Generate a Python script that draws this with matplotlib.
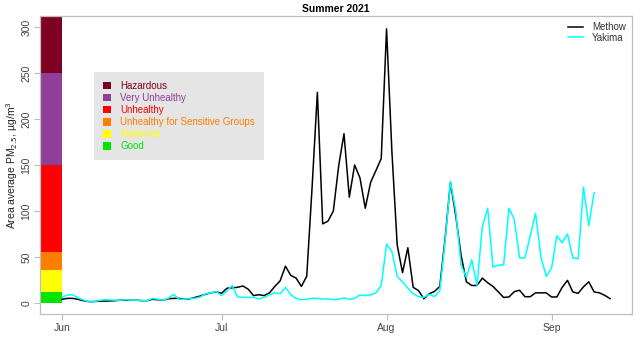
import numpy as np
import pandas as pd
import matplotlib
matplotlib.use("Agg")
import matplotlib.pyplot as plt
import matplotlib.dates as mdates
from matplotlib.lines import Line2D
from matplotlib.patches import Patch

plt.rcParams['font.family'] = ['Liberation Sans', 'DejaVu Sans']

# --- data ---
start_date = "2021-06-01"
methow = [4, 5, 5, 4, 2.5, 1.5, 1.5, 2, 2, 2.2, 2.5, 3, 3, 3, 3, 2.5, 2.5, 4, 3.5, 3,
          4.5, 5, 5, 4, 4.5, 6, 7.5, 9.5, 11, 12, 10.5, 16, 16.5, 17, 18.5, 15, 8, 9, 8, 11,
          18, 24, 40, 30, 27, 18, 29, 125, 229, 86, 89, 100, 149, 184, 115, 150, 136, 103, 131, 144,
          157, 298, 165, 63, 33, 60, 17, 13.5, 4.5, 10, 12.5, 18, 70, 131, 95, 52, 23, 19, 19, 27,
          22, 18, 12, 6, 6.5, 12.3, 13.8, 6.8, 6.8, 11, 11, 11, 6.5, 6.5, 17, 24.6, 12, 10.5, 17.5, 23,
          12, 11, 8.3, 4.7]
yakima = [6, 8.7, 9, 5.5, 3.3, 1.4, 1.2, 2.8, 3.5, 3.3, 3, 3, 3.5, 3, 3, 2.5, 2.5, 5, 4, 3,
          5, 9.5, 4, 4, 5, 5, 6.5, 10, 11, 12.3, 8, 13, 19, 6.5, 6.2, 6.2, 6, 4.5, 6, 9,
          11, 10, 17, 9, 5, 3.6, 4, 5, 5, 4.3, 4.5, 3.6, 4, 5.5, 4, 5, 8.7, 8, 8.7, 10.9,
          19, 64, 56, 29, 23, 16, 10, 7, 6, 9.5, 7, 13, 67, 132, 100, 41, 28, 47, 19, 83,
          103, 39, 41, 41.5, 103, 91, 49, 49, 73, 97.5, 50, 29, 38, 73, 65.5, 75, 49, 48, 126, 84,
          120]

aqi_names = ["Good", "Moderate", "Unhealthy for Sensitive Groups", "Unhealthy",
             "Very Unhealthy", "Hazardous"]
aqi_lower = [0, 12, 35.4, 55.4, 150.4, 250.4]
aqi_upper = [12, 35.4, 55.4, 150.4, 250.4, 500]
aqi_colors = ["#00E400", "#FFFF00", "#FF7E00", "#FF0000", "#8F3F97", "#7E0023"]

month_ticks = ["2021-06-01", "2021-07-01", "2021-08-01", "2021-09-01"]
month_labels = ["Jun", "Jul", "Aug", "Sep"]

# --- figure ---
fig = plt.figure(figsize=(6.4, 3.54), dpi=100)
ax = fig.add_axes([40/640, 1-314/354, 592/640, 298/354])

d_m = pd.date_range(start_date, periods=len(methow), freq="D")
d_y = pd.date_range(start_date, periods=len(yakima), freq="D")
x_m = mdates.date2num(d_m)
x_y = mdates.date2num(d_y)
x0 = x_m[0]
span = x_m[-1] - x_m[0]
xlim = (x0 - 0.04 * span, x_m[-1] + 0.04 * span)

# AQI colour bar on the left
for lo, hi, c in zip(aqi_lower, aqi_upper, aqi_colors):
    ax.bar(xlim[0], hi - lo, width=x0 - xlim[0], bottom=lo, align="edge",
           color=c, edgecolor="none", zorder=1)

ax.plot(x_m, methow, color="black", lw=1.1, zorder=3)
ax.plot(x_y, yakima, color="#00FFFF", lw=1.1, zorder=4)

ax.set_xlim(*xlim)
ax.set_ylim(-12, 312)

gray = "#BEBEBE"
for s in ax.spines.values():
    s.set_color(gray)
    s.set_linewidth(0.9)

ax.set_xticks(mdates.date2num(pd.to_datetime(month_ticks)))
ax.set_xticklabels(month_labels)
ax.set_yticks([0, 50, 100, 150, 200, 250, 300])
ax.tick_params(axis="both", colors=gray, labelcolor="#444444", labelsize=7.5,
               length=4, width=0.8, direction="out")
ax.tick_params(axis="x", pad=2.5)
ax.tick_params(axis="y", pad=2)
for lab in ax.get_yticklabels():
    lab.set_rotation(90)
    lab.set_va("center")

ax.set_title("Summer 2021", fontsize=7.5, fontweight="bold", pad=3, color="#000000")
ax.set_ylabel("Area average PM$_{2.5}$, µg/m$^3$", fontsize=7.5, color="#222222", labelpad=1)

# AQI legend
handles = [Patch(facecolor=c, edgecolor="none") for c in aqi_colors[::-1]]
leg1 = ax.legend(handles, aqi_names[::-1], loc="upper left",
                 bbox_to_anchor=((94-40)/592, (314-72)/298), fontsize=7,
                 frameon=True, facecolor="#E5E5E5", edgecolor="none", framealpha=1,
                 fancybox=False, handlelength=0.8, handleheight=0.8, handletextpad=1.0,
                 labelspacing=0.22, borderpad=0.9, borderaxespad=0)
for t, c in zip(leg1.get_texts(), aqi_colors[::-1]):
    t.set_color(c)
ax.add_artist(leg1)

# Site legend
lh = [Line2D([0], [0], color="black", lw=1.1), Line2D([0], [0], color="#00FFFF", lw=1.1)]
leg2 = ax.legend(lh, ["Methow", "Yakima"], loc="upper right", fontsize=7,
                 frameon=False, handlelength=1.6, handletextpad=0.9, labelspacing=0.05,
                 borderaxespad=0.25)
for t in leg2.get_texts():
    t.set_color("#333333")

fig.savefig("out.png", dpi=100)
